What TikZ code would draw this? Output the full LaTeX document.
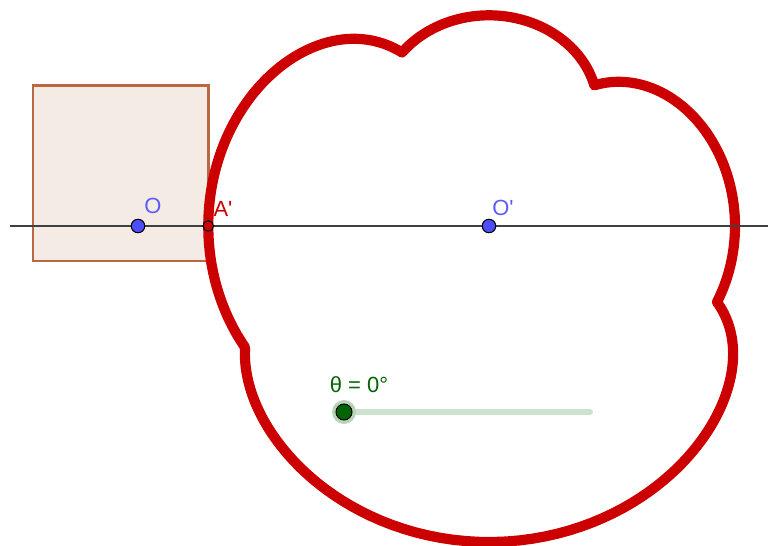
\documentclass[tikz,border=0pt]{standalone}
\usepackage{fontspec}
\setmainfont{Liberation Sans}[Ligatures=TeXOff]
\definecolor{curvered}{RGB}{204,0,0}
\definecolor{sqedge}{RGB}{184,104,66}
\definecolor{sqfill}{RGB}{244,235,228}
\definecolor{axisgray}{RGB}{64,64,64}
\definecolor{ptblue}{RGB}{77,77,255}
\definecolor{lblblue}{RGB}{90,90,255}
\definecolor{darkgreen}{RGB}{0,100,0}
\definecolor{trackgreen}{RGB}{204,226,204}
\definecolor{halogreen}{RGB}{185,212,185}
\begin{document}
\begin{tikzpicture}[x=0.02cm,y=-0.02cm,
  locus/.style={draw=curvered,line width=5.8pt,line join=round,line cap=round},
  axisline/.style={draw=axisgray,line width=1.6pt},
  square/.style={draw=sqedge,fill=sqfill,line width=1.7pt},
  bluept/.style={circle,draw=black,fill=ptblue,line width=0.6pt,minimum size=0.27cm,inner sep=0pt},
  redpt/.style={circle,draw=black,fill=curvered,line width=0.6pt,minimum size=0.21cm,inner sep=0pt},
  lbl/.style={inner sep=0pt,font=\fontsize{12.5}{14}\selectfont},
  track/.style={draw=trackgreen,line width=3.4pt,line cap=round},
  halo/.style={circle,fill=halogreen,minimum size=0.48cm,inner sep=0pt},
  knob/.style={circle,draw=black,fill=darkgreen,line width=0.6pt,minimum size=0.32cm,inner sep=0pt}]
\useasboundingbox (0,0) rectangle (768,545);
% square
\draw[square] (33,85.7) rectangle (208.3,261);
% locus: A' = O' + (K/d - 1)(-px, py), P on the square seen from O, K = 3.51 (x100 px)
\draw[locus]
  plot[domain=-0.35:1.403,samples=120,variable=\t]
    ({489-100*(3.51/veclen(0.703,\t)-1)*0.703},{226-100*(3.51/veclen(0.703,\t)-1)*\t})
  -- plot[domain=0.703:-1.05,samples=120,variable=\t]
    ({489-100*(3.51/veclen(\t,1.403)-1)*\t},{226-100*(3.51/veclen(\t,1.403)-1)*1.403})
  -- plot[domain=1.403:-0.35,samples=120,variable=\t]
    ({489+100*(3.51/veclen(1.05,\t)-1)*1.05},{226-100*(3.51/veclen(1.05,\t)-1)*\t})
  -- plot[domain=-1.05:0.703,samples=120,variable=\t]
    ({489-100*(3.51/veclen(\t,0.35)-1)*\t},{226+100*(3.51/veclen(\t,0.35)-1)*0.35})
  -- cycle;
% axis line
\coordinate (L1) at (10,226);
\coordinate (L2) at (768,226);
\draw[axisline] (L1) -- (L2);
% points
\node[bluept] (O) at (138,226) {};
\node[redpt] (A) at (208.3,226) {};
\node[bluept] (Op) at (489,226) {};
\node[lbl,text=lblblue] (Olbl) at (153,205.5) {O};
\node[lbl,text=curvered] (Albl) at (223,209) {A'};
\node[lbl,text=lblblue] (Oplbl) at (503,208) {O'};
% slider
\coordinate (s1) at (344,412);
\coordinate (s2) at (590,412);
\draw[track] (s1) -- (s2);
\node[halo] (knobhalo) at (s1) {};
\node[knob] (knob) at (s1) {};
\node[lbl,text=darkgreen] (theta) at (359,385) {θ = 0°};
\end{tikzpicture}
\end{document}
